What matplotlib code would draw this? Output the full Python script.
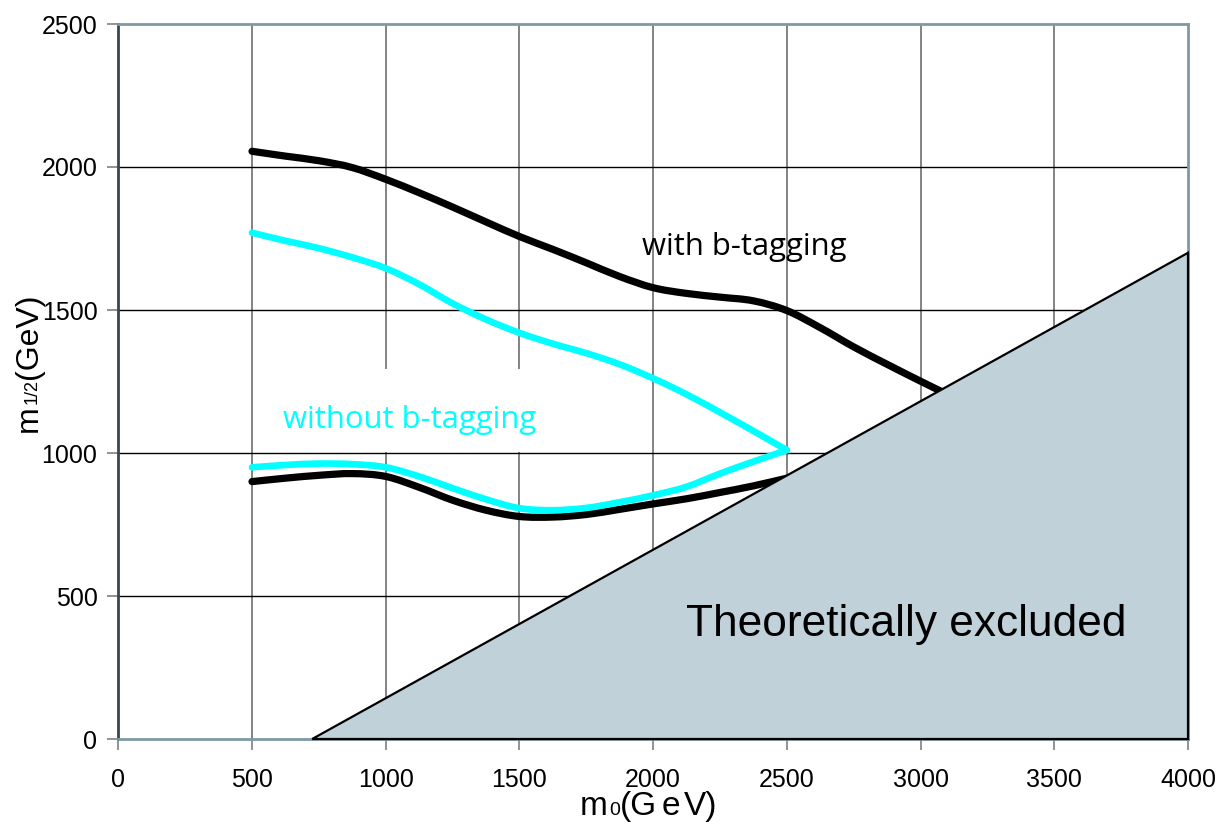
import matplotlib
matplotlib.use("Agg")
import numpy as np
import matplotlib.pyplot as plt
from matplotlib.patches import Polygon, Rectangle, PathPatch
from matplotlib.path import Path
from matplotlib.transforms import IdentityTransform

# Reach contours in the (m0, m1/2) plane
m0_with_btag = [500, 625, 750, 875, 1000, 1125, 1250, 1375, 1500, 1625, 1750,
                1875, 2000, 2125, 2250, 2375, 2500, 2625, 2750, 2875, 3000, 3100]
m12_with_btag_upper = [2055, 2038, 2022, 1998, 1957, 1910, 1860, 1808, 1757, 1712, 1665,
                       1617, 1578, 1558, 1545, 1532, 1498, 1438, 1371, 1310, 1251, 1205]

m0_lower = [500, 625, 750, 875, 1000, 1125, 1250, 1375, 1500, 1625, 1750,
            1875, 2000, 2125, 2250, 2375, 2500]
m12_with_btag_lower = [900, 912, 922, 928, 918, 880, 835, 800, 778, 776, 785,
                       803, 822, 840, 862, 885, 912]

m0_without = [500, 625, 750, 875, 1000, 1125, 1250, 1375, 1500, 1625, 1750,
              1875, 2000, 2125, 2250, 2375, 2500]
m12_without_upper = [1770, 1742, 1716, 1684, 1646, 1590, 1523, 1467, 1420, 1382, 1349,
                     1310, 1261, 1205, 1142, 1077, 1010]
m12_without_lower = [950, 958, 963, 961, 950, 918, 877, 838, 807, 800, 808,
                     828, 852, 882, 928, 970, 1010]

# Theoretically excluded region (corner points)
excluded_m0 = [725, 4000, 4000]
excluded_m12 = [0, 1700, 0]

x_ticks = [0, 500, 1000, 1500, 2000, 2500, 3000, 3500, 4000]
y_ticks = [0, 500, 1000, 1500, 2000, 2500]

W, H, DPI = 12.19, 8.22, 100
fig = plt.figure(figsize=(W, H), dpi=DPI)
ax = fig.add_axes([118.3 / 1219, (822 - 739) / 822, (1188 - 118.3) / 1219, (739 - 24) / 822])

ax.set_xlim(0, 4000)
ax.set_ylim(0, 2500)
ax.set_xticks(x_ticks)
ax.set_yticks(y_ticks)

label_font = "Liberation Sans"
ax.tick_params(axis="x", direction="out", length=8, width=1.2, color="#808080",
               pad=13, labelsize=18)
ax.tick_params(axis="y", direction="out", length=8, width=1.2, color="#808080",
               pad=7, labelsize=18)
for lab in ax.get_xticklabels() + ax.get_yticklabels():
    lab.set_fontfamily(label_font)

# Grid: grey verticals, black horizontals
for xv in x_ticks[1:-1]:
    ax.axvline(xv, color="#7a7a7a", lw=1.3, zorder=1)
for yv in y_ticks[1:-1]:
    ax.axhline(yv, color="black", lw=1.0, zorder=1)

for side in ["top", "right", "bottom"]:
    ax.spines[side].set_color("#7f99a4")
    ax.spines[side].set_linewidth(2)
ax.spines["left"].set_color("#34474e")
ax.spines["left"].set_linewidth(2)

# White box behind the "without b-tagging" label
ax.add_patch(Rectangle((570, 1002), 1000, 291, facecolor="white", edgecolor="none", zorder=1.5))


def smooth_line(xs, ys, color, lw, zorder):
    """Draw a smoothed line through the points (Catmull-Rom as cubic Beziers)."""
    p = np.column_stack([xs, ys]).astype(float)
    ext = np.vstack([p[0], p, p[-1]])
    verts = [p[0]]
    codes = [Path.MOVETO]
    for i in range(len(p) - 1):
        p0, p1, p2, p3 = ext[i], ext[i + 1], ext[i + 2], ext[i + 3]
        c1 = p1 + (p2 - p0) / 6.0
        c2 = p2 - (p3 - p1) / 6.0
        verts += [c1, c2, p2]
        codes += [Path.CURVE4] * 3
    patch = PathPatch(Path(verts, codes), facecolor="none", edgecolor=color, lw=lw,
                      capstyle="round", joinstyle="round", zorder=zorder)
    ax.add_patch(patch)


smooth_line(m0_with_btag, m12_with_btag_upper, "black", 5.2, 3)
smooth_line(m0_lower, m12_with_btag_lower, "black", 5.2, 3)
smooth_line(m0_without, m12_without_upper, "#00ffff", 4.8, 4)
smooth_line(m0_without, m12_without_lower, "#00ffff", 4.8, 4)

ax.add_patch(Polygon(list(zip(excluded_m0, excluded_m12)), closed=True,
                     facecolor="#c0d1da", edgecolor="black", lw=1.6, zorder=5,
                     clip_on=False))

ax.text(1959, 1691, "with b-tagging", fontfamily="Open Sans", fontsize=22.3,
        color="black", ha="left", va="baseline", zorder=6)
ax.text(617, 1087, "without b-tagging", fontfamily="Open Sans", fontsize=22.3,
        color="#00ffff", ha="left", va="baseline", zorder=6)
ax.text(2123, 360, "Theoretically excluded", fontfamily=label_font, fontsize=31.9,
        color="black", ha="left", va="baseline", zorder=6)

# Axis titles built from runs of text so the subscripts sit near the baseline
fig.canvas.draw()
renderer = fig.canvas.get_renderer()


def text_run(x, y, pieces, rotation=0):
    for s, size, gap in pieces:
        t = fig.text(x, y, s, transform=IdentityTransform(), fontsize=size,
                     fontfamily=label_font, rotation=rotation, rotation_mode="anchor",
                     ha="left", va="baseline")
        bb = t.get_window_extent(renderer)
        if rotation == 0:
            x += bb.width + gap
        else:
            y += bb.height + gap


text_run(580, 822 - 815, [("m", 24, 1), ("0", 14, 0), ("(G", 24, 5), ("e", 24, 3), ("V)", 24, 0)])
text_run(37, 822 - 432, [("m", 23, 1), ("1/2", 13, 0), ("(GeV)", 23, 0)], rotation=90)

fig.savefig("out.png", dpi=DPI)
